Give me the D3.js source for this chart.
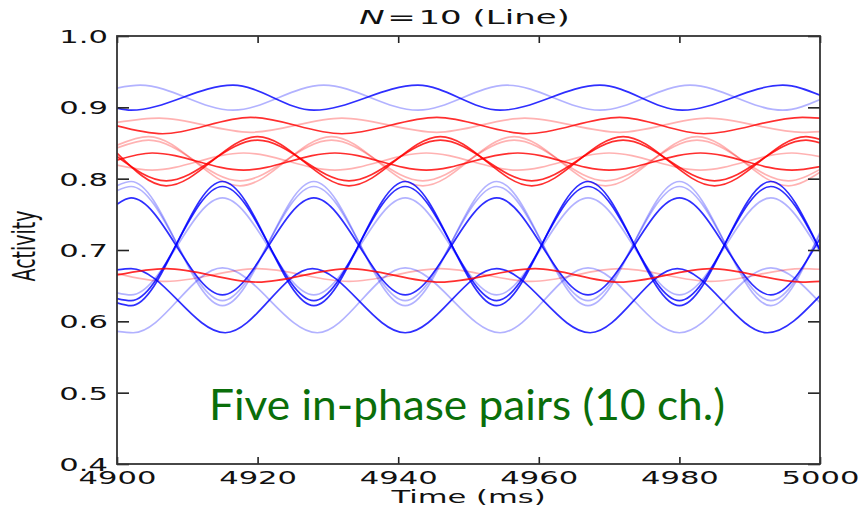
<!DOCTYPE html>
<html>
<head>
<meta charset="utf-8">
<script src="https://cdn.jsdelivr.net/npm/d3@7"></script>
<style>
  body { margin: 0; background: #fff; }
  svg { display: block; }
</style>
</head>
<body>
<svg id="chart" width="864" height="510"></svg>
<script>
// ---- axis settings ----
const timeDomain = [4900, 5000];
const activityDomain = [0.4, 1.0];
const xTicks = [4900, 4920, 4940, 4960, 4980, 5000];
const yTicks = [0.4, 0.5, 0.6, 0.7, 0.8, 0.9, 1.0];
const yTickLabels = ["0.4", "0.5", "0.6", "0.7", "0.8", "0.9", "1.0"];

// ---- traces: [time (ms), activity] at turning points and window edges ----
// blue, upper anti-phase pair
const blueTopDark  = [[4900,0.899],[4902,0.896],[4916.5,0.931],[4928,0.896],[4942.8,0.931],[4954.5,0.896],[4968.7,0.931],[4980.4,0.896],[4994.7,0.931],[5000,0.917]];
const blueTopLight = [[4900,0.927],[4903.3,0.931],[4916.5,0.896],[4929.4,0.931],[4942.8,0.896],[4955.5,0.931],[4968.7,0.896],[4981.5,0.931],[4994.7,0.896],[5000,0.911]];
// blue, large arches peaking with group A
const blueArchA1 = [[4900,0.790],[4902,0.796],[4915,0.622],[4928,0.796],[4941,0.622],[4954,0.796],[4967,0.622],[4980,0.796],[4993,0.622],[5000,0.725]];
const blueArchA2 = [[4900,0.783],[4902,0.789],[4915,0.629],[4928,0.789],[4941,0.629],[4954,0.789],[4967,0.629],[4980,0.789],[4993,0.629],[5000,0.722]];
const blueArchA3 = [[4900,0.764],[4902,0.773],[4915,0.637],[4928,0.773],[4941,0.637],[4954,0.773],[4967,0.637],[4980,0.773],[4993,0.637],[5000,0.716]];
// blue, large arches peaking with group B
const blueArchB1 = [[4900,0.626],[4902,0.622],[4915,0.796],[4928,0.622],[4941,0.796],[4954,0.622],[4967,0.796],[4980,0.622],[4993,0.796],[5000,0.700]];
const blueArchB2 = [[4900,0.632],[4902,0.629],[4915,0.789],[4928,0.629],[4941,0.789],[4954,0.629],[4967,0.789],[4980,0.629],[4993,0.789],[5000,0.700]];
const blueArchB3 = [[4900,0.640],[4902,0.637],[4915,0.773],[4928,0.637],[4941,0.773],[4954,0.637],[4967,0.773],[4980,0.637],[4993,0.773],[5000,0.697]];
// blue, lower anti-phase pair
const blueLowDark  = [[4900,0.672],[4902,0.674],[4915.4,0.584],[4927.8,0.674],[4941,0.584],[4954,0.674],[4967.3,0.584],[4979.7,0.674],[4992.5,0.584],[5000,0.636]];
const blueLowLight = [[4900,0.586],[4902.3,0.584],[4915,0.675],[4928.5,0.584],[4941,0.675],[4954.5,0.584],[4967,0.675],[4980,0.584],[4993,0.675],[5000,0.626]];

// red, upper anti-phase pair
const redTopDark  = [[4900,0.874],[4906.5,0.863],[4919,0.886],[4932,0.863],[4945.5,0.886],[4958.3,0.863],[4971.5,0.886],[4983.5,0.863],[4997.5,0.886],[5000,0.885]];
const redTopLight = [[4900,0.879],[4906,0.885],[4919,0.865],[4932,0.885],[4945.5,0.865],[4958,0.885],[4971.5,0.865],[4984,0.885],[4997.5,0.865],[5000,0.866]];
// red, middle band: two wide light waves, two wide dark waves, one narrow pair
const redMidLight1 = [[4900,0.847],[4904.5,0.859],[4917.5,0.790],[4930.5,0.859],[4943.5,0.790],[4956.5,0.859],[4969.5,0.790],[4982.5,0.859],[4995.5,0.790],[5000,0.809]];
const redMidLight2 = [[4900,0.843],[4904.5,0.854],[4917.5,0.797],[4930.5,0.854],[4943.5,0.797],[4956.5,0.854],[4969.5,0.797],[4982.5,0.854],[4995.5,0.797],[5000,0.813]];
const redMidDark1  = [[4900,0.836],[4907,0.790],[4920,0.859],[4933,0.790],[4946,0.859],[4959,0.790],[4972,0.859],[4985,0.790],[4998,0.859],[5000,0.855]];
const redMidDark2  = [[4900,0.831],[4907,0.797],[4920,0.854],[4933,0.797],[4946,0.854],[4959,0.797],[4972,0.854],[4985,0.797],[4998,0.854],[5000,0.850]];
const redNarrowDark  = [[4900,0.826],[4905,0.836],[4918,0.812],[4931,0.836],[4944,0.812],[4957,0.836],[4970,0.812],[4983,0.836],[4996,0.812],[5000,0.817]];
const redNarrowLight = [[4900,0.819],[4905,0.812],[4918,0.836],[4931,0.812],[4944,0.836],[4957,0.812],[4970,0.836],[4983,0.812],[4996,0.836],[5000,0.831]];
// red, lower anti-phase pair
const redLowDark  = [[4900,0.665],[4907,0.674],[4920,0.655],[4933,0.674],[4946,0.655],[4959.5,0.674],[4971.5,0.655],[4984.5,0.674],[4997.5,0.655],[5000,0.656]];
const redLowLight = [[4900,0.667],[4907,0.656],[4920,0.674],[4933,0.656],[4946,0.674],[4959,0.656],[4971.5,0.674],[4984.5,0.656],[4997.5,0.674],[5000,0.673]];

// ---- drawing order and shading ----
const traces = [
  { data: redTopLight,    hue: "red",  shade: "light" },
  { data: redMidLight1,   hue: "red",  shade: "light" },
  { data: redMidLight2,   hue: "red",  shade: "light" },
  { data: redNarrowLight, hue: "red",  shade: "light" },
  { data: redLowLight,    hue: "red",  shade: "light" },
  { data: blueTopLight,   hue: "blue", shade: "light" },
  { data: blueArchA1,     hue: "blue", shade: "light" },
  { data: blueArchA2,     hue: "blue", shade: "light" },
  { data: blueArchB3,     hue: "blue", shade: "light" },
  { data: blueLowLight,   hue: "blue", shade: "light" },
  { data: blueTopDark,    hue: "blue", shade: "dark" },
  { data: blueArchA3,     hue: "blue", shade: "dark" },
  { data: blueArchB1,     hue: "blue", shade: "dark" },
  { data: blueArchB2,     hue: "blue", shade: "dark" },
  { data: blueLowDark,    hue: "blue", shade: "dark" },
  { data: redTopDark,     hue: "red",  shade: "dark" },
  { data: redNarrowDark,  hue: "red",  shade: "dark" },
  { data: redMidDark1,    hue: "red",  shade: "dark" },
  { data: redMidDark2,    hue: "red",  shade: "dark" },
  { data: redLowDark,     hue: "red",  shade: "dark" }
];
const hueColor = { blue: "#0000ff", red: "#ff0000" };
const shadeOpacity = { dark: 0.82, light: 0.3 };

// ---- layout ----
const plot = { left: 117, right: 820, top: 36, bottom: 464 };
const stretch = 1.7;   // horizontal glyph stretch used by all figure text
const inkColor = "#222";

const svg = d3.select("#chart");
const x = d3.scaleLinear().domain(timeDomain).range([plot.left, plot.right]);
const y = d3.scaleLinear().domain(activityDomain).range([plot.bottom, plot.top]);

svg.append("defs").append("clipPath").attr("id", "plotClip")
  .append("rect")
  .attr("x", plot.left).attr("y", plot.top)
  .attr("width", plot.right - plot.left).attr("height", plot.bottom - plot.top);

// traces
const line = d3.line()
  .x(d => x(d[0]))
  .y(d => y(d[1]))
  .curve(d3.curveMonotoneX);

svg.append("g").attr("clip-path", "url(#plotClip)")
  .selectAll("path")
  .data(traces)
  .join("path")
  .attr("d", d => line(d.data))
  .attr("fill", "none")
  .attr("stroke", d => hueColor[d.hue])
  .attr("stroke-opacity", d => shadeOpacity[d.shade])
  .attr("stroke-width", 1.7)
  .attr("stroke-linejoin", "round");

// axes: ticks point inward on all four sides
function styleAxis(g) {
  g.select(".domain").remove();
  g.selectAll(".tick line").attr("stroke", inkColor).attr("stroke-width", 1.6);
}

const fontTicks = "'DejaVu Sans', sans-serif";

const gLeft = svg.append("g")
  .attr("transform", `translate(${plot.left},0)`)
  .call(d3.axisLeft(y).tickValues(yTicks).tickSize(-12)
        .tickFormat((d, i) => yTickLabels[i]))
  .call(styleAxis);
gLeft.selectAll(".tick text")
  .attr("x", 0).attr("dy", "0.36em")
  .attr("transform", `translate(-9,0) scale(${stretch},1)`)
  .attr("fill", "#111")
  .style("font-family", fontTicks).style("font-size", "18px");

const gRight = svg.append("g")
  .attr("transform", `translate(${plot.right},0)`)
  .call(d3.axisRight(y).tickValues(yTicks).tickSize(-12).tickFormat(""))
  .call(styleAxis);

const gBottom = svg.append("g")
  .attr("transform", `translate(0,${plot.bottom})`)
  .call(d3.axisBottom(x).tickValues(xTicks).tickSize(-7).tickFormat(d3.format("d")))
  .call(styleAxis);
gBottom.selectAll(".tick text")
  .attr("y", 0).attr("dy", 0)
  .attr("transform", `translate(0,19.5) scale(${stretch},1)`)
  .attr("fill", "#111")
  .style("font-family", fontTicks).style("font-size", "18px");

const gTop = svg.append("g")
  .attr("transform", `translate(0,${plot.top})`)
  .call(d3.axisTop(x).tickValues(xTicks).tickSize(-7).tickFormat(""))
  .call(styleAxis);

// frame
svg.append("rect")
  .attr("x", plot.left).attr("y", plot.top)
  .attr("width", plot.right - plot.left).attr("height", plot.bottom - plot.top)
  .attr("fill", "none").attr("stroke", "#333").attr("stroke-width", 1.8);

// title
const title = svg.append("text")
  .attr("transform", `translate(${(plot.left + plot.right) / 2 - 4},24) scale(${stretch},1)`)
  .attr("text-anchor", "middle")
  .attr("fill", "#111")
  .style("font-family", fontTicks).style("font-size", "20px");
title.append("tspan").style("font-style", "italic").text("N");
title.append("tspan").attr("dx", "0.08em").text("=");
title.append("tspan").attr("dx", "0.08em").text("10 (Line)");

// axis labels
svg.append("text")
  .attr("transform", `translate(${(plot.left + plot.right) / 2},503) scale(${stretch},1)`)
  .attr("text-anchor", "middle")
  .attr("fill", "#111")
  .style("font-family", fontTicks).style("font-size", "18px")
  .text("Time (ms)");

svg.append("text")
  .attr("transform", `translate(35,246) scale(${stretch},1) rotate(-90)`)
  .attr("text-anchor", "middle")
  .attr("fill", "#111")
  .style("font-family", fontTicks).style("font-size", "19px")
  .text("Activity");

// annotation
svg.append("text")
  .attr("x", 467).attr("y", 420)
  .attr("text-anchor", "middle")
  .attr("textLength", 516)
  .attr("lengthAdjust", "spacingAndGlyphs")
  .attr("fill", "#0a6e0a")
  .style("font-family", "Lato, 'Open Sans', sans-serif").style("font-size", "42px")
  .text("Five in-phase pairs (10 ch.)");
</script>
</body>
</html>
